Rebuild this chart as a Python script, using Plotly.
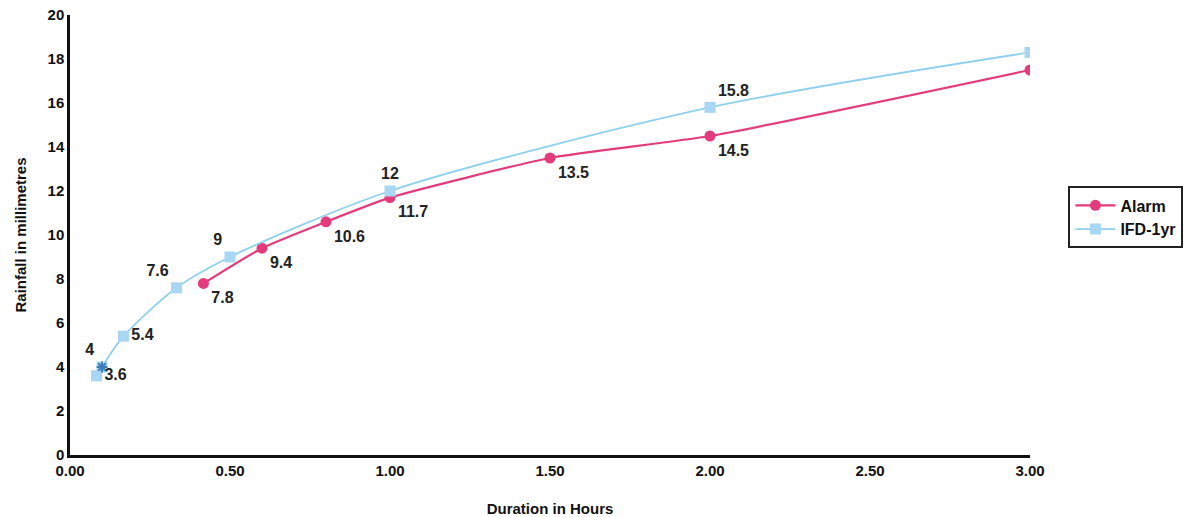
import plotly.graph_objects as go

# Rainfall depth against storm duration
alarm_hours = [0.417, 0.6, 0.8, 1.0, 1.5, 2.0, 3.0]
alarm_mm = [7.8, 9.4, 10.6, 11.7, 13.5, 14.5, 17.5]

ifd_hours = [0.083, 0.1, 0.167, 0.333, 0.5, 1.0, 2.0, 3.0]
ifd_mm = [3.6, 4.0, 5.4, 7.6, 9.0, 12.0, 15.8, 18.3]

x_ticks = [0, 0.5, 1.0, 1.5, 2.0, 2.5, 3.0]
x_tick_text = ["0.00", "0.50", "1.00", "1.50", "2.00", "2.50", "3.00"]
y_ticks = [0, 2, 4, 6, 8, 10, 12, 14, 16, 18, 20]

alarm_pos = ["bottom right", "bottom right", "bottom right", "bottom right",
             "bottom right", "bottom right", "middle right"]
ifd_pos = ["middle right", "top left", "middle right", "top left", "top left",
           "top center", "top right", "middle right"]

FONT = "Liberation Sans, Arial, sans-serif"
ALARM_COL = "#e33b7c"
IFD_COL = "#8fd0ef"

fig = go.Figure()

fig.add_trace(go.Scatter(
    x=alarm_hours, y=alarm_mm, name="Alarm",
    mode="lines+markers+text",
    line=dict(color=ALARM_COL, width=2.2, shape="spline", smoothing=0.5),
    marker=dict(symbol="circle", size=11, color=ALARM_COL),
    text=[f"{v:g}" for v in alarm_mm], textposition=alarm_pos,
    textfont=dict(family=FONT, size=16, color="#222222", weight="bold"),
))

fig.add_trace(go.Scatter(
    x=ifd_hours, y=ifd_mm, name="IFD-1yr",
    mode="lines+markers+text",
    line=dict(color=IFD_COL, width=1.8, shape="spline", smoothing=0.8),
    marker=dict(symbol="square", size=11, color="#a9d6f3"),
    text=[f"{v:g}" for v in ifd_mm], textposition=ifd_pos,
    textfont=dict(family=FONT, size=16, color="#222222", weight="bold"),
))

# Darker star marker on the 4 mm point
fig.add_trace(go.Scatter(
    x=[ifd_hours[1]], y=[ifd_mm[1]], mode="markers", showlegend=False,
    marker=dict(symbol="asterisk-open", size=9, color="#3c7fb8",
                line=dict(color="#3c7fb8", width=2)),
    hoverinfo="skip",
))

fig.update_layout(
    width=1199, height=517,
    paper_bgcolor="white", plot_bgcolor="white",
    margin=dict(l=70, r=169, t=15, b=62),
    font=dict(family=FONT, size=15, color="#111111"),
    legend=dict(
        x=1.04, y=0.54, xanchor="left", yanchor="middle",
        bordercolor="#222222", borderwidth=2,
        font=dict(family=FONT, size=16, color="#111111", weight="bold"),
        bgcolor="white", tracegroupgap=2, itemwidth=40,
    ),
    xaxis=dict(
        range=[0, 3.0], tickvals=x_ticks, ticktext=x_tick_text,
        showgrid=False, zeroline=False, showline=True, automargin=False,
        linecolor="#111111", linewidth=2.5, ticks="",
        tickfont=dict(family=FONT, size=15, weight="bold"),
        title=dict(text="Duration in Hours", standoff=26,
                   font=dict(family=FONT, size=15, weight="bold")),
    ),
    yaxis=dict(
        range=[0, 20], tickvals=y_ticks,
        showgrid=False, zeroline=False, showline=True, automargin=False,
        linecolor="#111111", linewidth=2.5, ticks="",
        tickfont=dict(family=FONT, size=15, weight="bold"),
        title=dict(text="Rainfall in millimetres", standoff=18,
                   font=dict(family=FONT, size=15, weight="bold")),
    ),
)

fig.write_html("out.html")
